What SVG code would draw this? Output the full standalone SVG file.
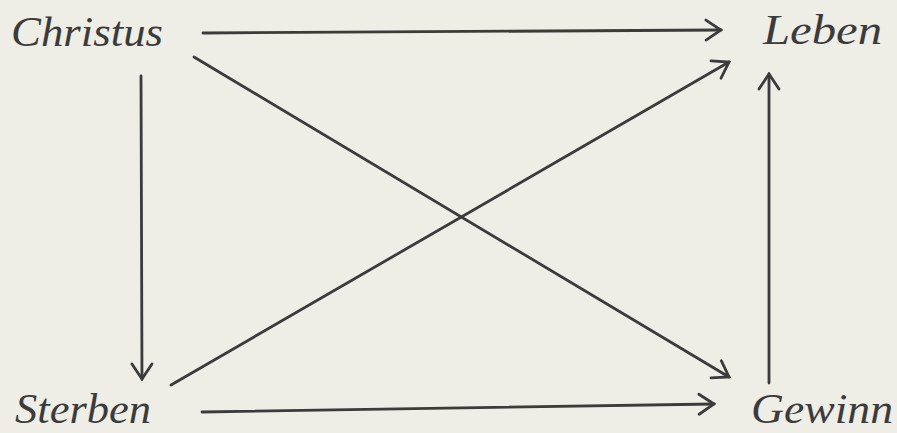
<svg xmlns="http://www.w3.org/2000/svg" width="897" height="433" viewBox="0 0 897 433">
<style>
.lbl{font-family:"Liberation Serif","DejaVu Serif",serif;font-style:italic;font-size:42px;fill:#3b3b3b}
.c{stroke:#3b3b3b;stroke-width:2.8;fill:none;stroke-linecap:round}
</style>
<defs>
<marker id="ah" markerUnits="userSpaceOnUse" markerWidth="20" markerHeight="24" viewBox="-18 -12 20 24" refX="0" refY="0" orient="auto">
<path d="M-15,-10 L0,0 L-15,10" fill="none" stroke="#3b3b3b" stroke-width="2.8" stroke-linecap="round" stroke-linejoin="miter"/>
</marker>
</defs>
<rect width="897" height="433" fill="#eeede6"/>
<g id="connectors">
<line class="c" x1="203" y1="33" x2="721" y2="30" marker-end="url(#ah)"/>
<line class="c" x1="202" y1="412" x2="714" y2="404" marker-end="url(#ah)"/>
<line class="c" x1="141" y1="76" x2="142" y2="379" marker-end="url(#ah)"/>
<line class="c" x1="769" y1="383" x2="769" y2="74" marker-end="url(#ah)"/>
<line class="c" x1="194" y1="57" x2="729" y2="377" marker-end="url(#ah)"/>
<line class="c" x1="171" y1="385" x2="729" y2="62" marker-end="url(#ah)"/>
</g>
<g id="christus"><text class="lbl" x="11" y="46" textLength="152" lengthAdjust="spacingAndGlyphs">Christus</text></g>
<g id="leben"><text class="lbl" x="763" y="44" textLength="119" lengthAdjust="spacingAndGlyphs">Leben</text></g>
<g id="sterben"><text class="lbl" x="15" y="423" textLength="136" lengthAdjust="spacingAndGlyphs">Sterben</text></g>
<g id="gewinn"><text class="lbl" x="751" y="423" textLength="142" lengthAdjust="spacingAndGlyphs">Gewinn</text></g>
</svg>
